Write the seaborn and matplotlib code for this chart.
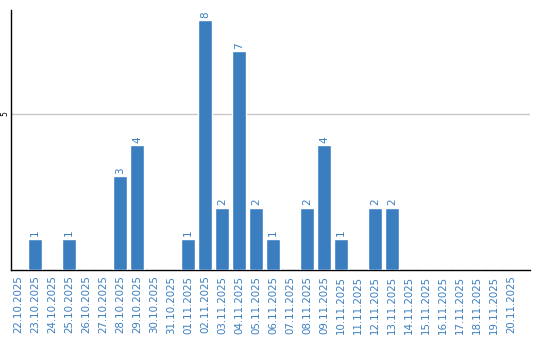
import matplotlib
matplotlib.use("Agg")
import matplotlib.pyplot as plt
import seaborn as sns
import pandas as pd

dates = ["22.10.2025", "23.10.2025", "24.10.2025", "25.10.2025", "26.10.2025",
         "27.10.2025", "28.10.2025", "29.10.2025", "30.10.2025", "31.10.2025",
         "01.11.2025", "02.11.2025", "03.11.2025", "04.11.2025", "05.11.2025",
         "06.11.2025", "07.11.2025", "08.11.2025", "09.11.2025", "10.11.2025",
         "11.11.2025", "12.11.2025", "13.11.2025", "14.11.2025", "15.11.2025",
         "16.11.2025", "17.11.2025", "18.11.2025", "19.11.2025", "20.11.2025"]
counts = [0, 1, 0, 1, 0, 0, 3, 4, 0, 0,
          1, 8, 2, 7, 2, 1, 0, 2, 4, 1,
          0, 2, 2, 0, 0, 0, 0, 0, 0, 0]
yticks = [5]

BLUE = "#3b7ec0"
df = pd.DataFrame({"date": dates, "count": counts})

sns.set_style("white")
plt.rcParams['font.family'] = ['DejaVu Sans']

fig = plt.figure(figsize=(5.4, 3.4), dpi=100)
ax = fig.add_axes([11/540, 70/340, 519/540, 260/340])
sns.barplot(data=df, x="date", y="count", color=BLUE, width=0.82,
            saturation=1, ax=ax, zorder=3)

for i, v in enumerate(counts):
    if v > 0:
        ax.text(i, v + 0.08, str(v), rotation=90, ha="center", va="bottom",
                color=BLUE, fontsize=7.5)

ax.set_xlim(-0.41, 30.1)
ax.set_ylim(0, 8.32)
ax.set_yticks(yticks)
ax.set_yticklabels([str(t) for t in yticks], rotation=90, va="center",
                   fontsize=5.5, color="black")
ax.yaxis.grid(True, color="#c8c8c8", linewidth=1, zorder=0)
ax.tick_params(axis="y", length=0, pad=1.5)
ax.tick_params(axis="x", length=0, pad=4)
ax.set_xticks(range(len(dates)))
ax.set_xticklabels(dates, rotation=90, fontsize=7.4, color=BLUE)
ax.set_xlabel("")
ax.set_ylabel("")
for s in ["top", "right"]:
    ax.spines[s].set_visible(False)
for s in ["left", "bottom"]:
    ax.spines[s].set_color("black")
    ax.spines[s].set_linewidth(1)

fig.savefig("out.png", dpi=100)
